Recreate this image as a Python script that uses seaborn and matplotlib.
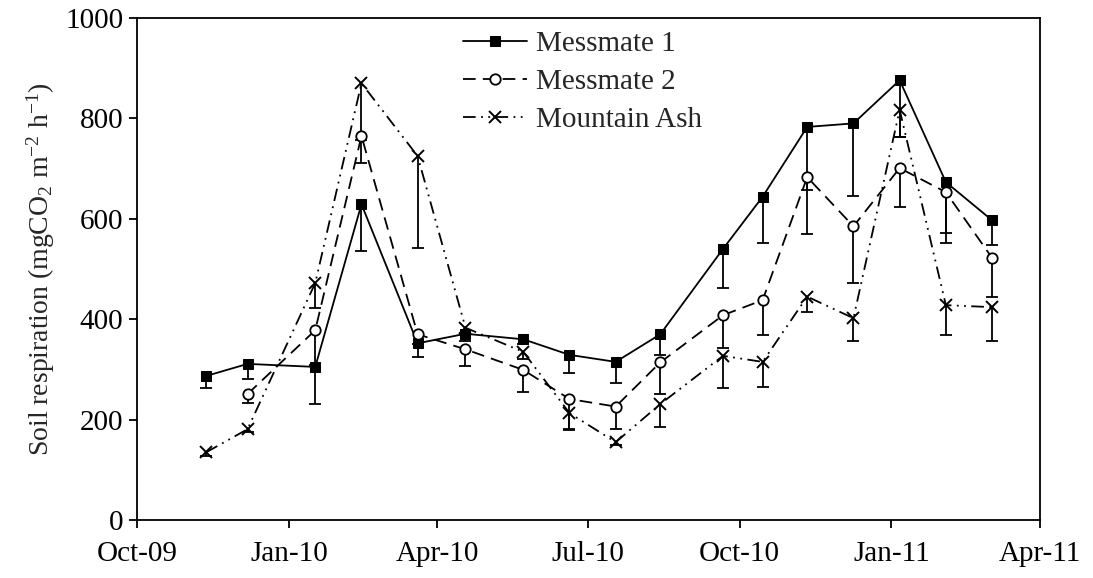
import numpy as np
import pandas as pd
import matplotlib
matplotlib.use("Agg")
import matplotlib.pyplot as plt
import matplotlib.dates as mdates
import seaborn as sns

# Sampling dates (days after 1 Oct 2009)
day_offsets = [42, 67, 108, 136, 170, 199, 234, 262, 290, 317, 355, 379, 406, 434, 462, 490, 518]
dates = pd.Timestamp("2009-10-01") + pd.to_timedelta(day_offsets, unit="D")

messmate1 = [287, 311, 305, 629, 352, 371, 360, 329, 315, 370, 540, 644, 783, 790, 876, 673, 597]
messmate1_se = [24, 30, 74, 93, 27, 15, 10, 36, 42, 41, 78, 93, 125, 144, 113, 121, 49]

messmate2 = [np.nan, 251, 378, 765, 370, 340, 299, 241, 226, 314, 408, 438, 683, 585, 701, 653, 522]
messmate2_se = [np.nan, 18, 70, 54, 20, 33, 44, 60, 45, 63, 65, 70, 113, 113, 77, 81, 78]

mountain_ash = [135, 181, 472, 870, 725, 383, 335, 213, 155, 231, 327, 315, 445, 402, 817, 428, 424]
mountain_ash_se = [8, 5, 50, 113, 183, 10, 15, 33, 5, 46, 64, 50, 31, 45, 54, 59, 67]

series_names = ["Messmate 1", "Messmate 2", "Mountain Ash"]
y_ticks = [0, 200, 400, 600, 800, 1000]

sns.set_style("ticks")
plt.rcParams["font.family"] = ["Liberation Serif", "DejaVu Serif"]
plt.rcParams["mathtext.fontset"] = "custom"
plt.rcParams["mathtext.rm"] = "Liberation Serif"
plt.rcParams["mathtext.it"] = "Liberation Serif:italic"

FS = 21

fig = plt.figure(figsize=(10.93, 5.78), dpi=100)
ax = fig.add_axes([0.1253, 0.1003, 0.8262, 0.8686])

styles = {
    "Messmate 1": dict(marker="s", markersize=7.5, markerfacecolor="black",
                       markeredgecolor="black", linestyle="-"),
    "Messmate 2": dict(marker="o", markersize=7.5, markerfacecolor="white",
                       markeredgecolor="black", markeredgewidth=1.3,
                       linestyle=(0, (7, 4))),
    "Mountain Ash": dict(marker="x", markersize=9, markeredgecolor="black",
                         markeredgewidth=1.4,
                         linestyle=(0, (7, 3, 1, 3, 1, 3))),
}
values = {"Messmate 1": messmate1, "Messmate 2": messmate2, "Mountain Ash": mountain_ash}
errors = {"Messmate 1": messmate1_se, "Messmate 2": messmate2_se, "Mountain Ash": mountain_ash_se}

for i, name in enumerate(series_names):
    df = pd.DataFrame({"date": dates, "resp": values[name], "se": errors[name]}).dropna()
    # lower-only error bars
    eb = ax.errorbar(df["date"], df["resp"], yerr=[df["se"], np.zeros(len(df))],
                     fmt="none", ecolor="black", elinewidth=1.3, capsize=4.4,
                     capthick=1.3, zorder=2)
    for cap in eb[1]:
        if np.allclose(cap.get_ydata(), df["resp"].values):
            cap.set_visible(False)
    sns.lineplot(data=df, x="date", y="resp", ax=ax, color="black", linewidth=1.3,
                 label=name, zorder=3 + i, **styles[name])

ax.set_xlim(pd.Timestamp("2009-10-01"), pd.Timestamp("2011-04-01"))
ax.set_ylim(0, 1000)
ax.set_yticks(y_ticks)
ax.xaxis.set_major_locator(mdates.MonthLocator(bymonth=[1, 4, 7, 10]))
ax.xaxis.set_major_formatter(mdates.DateFormatter("%b-%y"))

ax.set_xlabel("")
ax.set_ylabel("Soil respiration (mgCO$_2$ m$^{-2}$ h$^{-1}$)", fontsize=20, labelpad=6)
ax.tick_params(axis="both", direction="out", length=6, width=1.3, labelsize=FS,
               colors="black", pad=4)
ax.tick_params(axis="x", pad=9)
for side in ["left", "right", "top", "bottom"]:
    ax.spines[side].set_visible(True)
    ax.spines[side].set_linewidth(1.3)
    ax.spines[side].set_color("black")

ax.legend(loc="upper left", bbox_to_anchor=(0.361, 0.975), frameon=False, fontsize=FS,
          handlelength=2.2, handletextpad=0.3, labelspacing=0.4, borderaxespad=0.0,
          borderpad=0.0)

fig.savefig("out.png", dpi=100)
